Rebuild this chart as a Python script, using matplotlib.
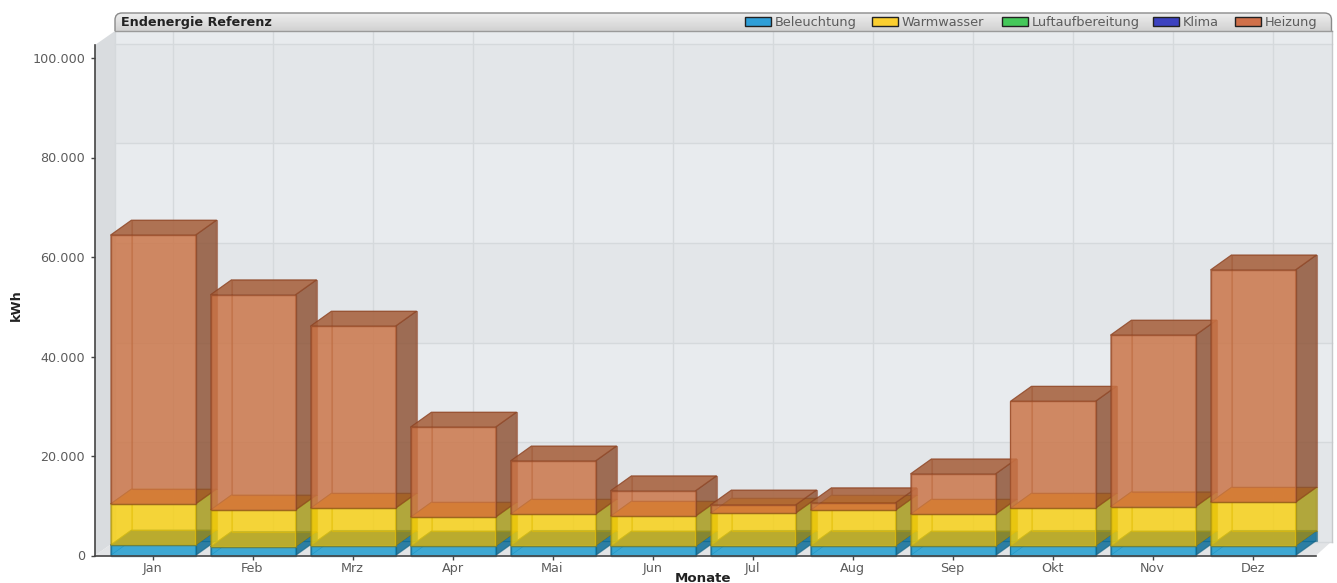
import numpy as np
import matplotlib
matplotlib.use("Agg")
import matplotlib.pyplot as plt
from matplotlib.patches import FancyBboxPatch, Polygon, Rectangle

months = ['Jan', 'Feb', 'Mrz', 'Apr', 'Mai', 'Jun', 'Jul', 'Aug', 'Sep', 'Okt', 'Nov', 'Dez']
beleuchtung = [2100, 1800, 2000, 1900, 2000, 1900, 2000, 2000, 1900, 2000, 1900, 2000]
warmwasser = [8250, 7350, 7500, 5800, 6300, 6000, 6500, 7100, 6400, 7500, 7900, 8700]
luftaufbereitung = [0, 0, 0, 0, 0, 0, 0, 0, 0, 0, 0, 0]
klima = [0, 0, 0, 0, 0, 0, 0, 0, 0, 0, 0, 0]
heizung = [54050, 43250, 36600, 18100, 10700, 5100, 1650, 1500, 8100, 21500, 34500, 46700]

series_names = ['Beleuchtung', 'Warmwasser', 'Luftaufbereitung', 'Klima', 'Heizung']
y_ticks = [0, 20000, 40000, 60000, 80000, 100000]
y_tick_labels = ['0', '20.000', '40.000', '60.000', '80.000', '100.000']

# front, side, top and back tint of each series
face_colors = {
    'Beleuchtung': ('#159acf', '#006593', '#0040b0', '#1c86b0'),
    'Warmwasser': ('#fad003', '#a59815', '#ffa800', '#f0cc30'),
    'Luftaufbereitung': ('#2fbf4f', '#1f8a3a', '#1f8a3a', '#2fbf4f'),
    'Klima': ('#3038b8', '#202880', '#202880', '#3038b8'),
    'Heizung': ('#ca7345', '#8c5133', '#a55f3b', '#d07a50'),
}
edge_colors = {
    'Beleuchtung': '#0f5f80',
    'Warmwasser': '#a08a10',
    'Luftaufbereitung': '#14602a',
    'Klima': '#141a60',
    'Heizung': '#8a4020',
}
legend_colors = ['#2f9fd8', '#fbcf30', '#45c85a', '#3c42c0', '#d0704a']
legend_x = [745, 872, 1002, 1153, 1235]

W, H = 1337, 583
y0_px, ytop_px = 555.5, 45.0
x0_px, x1_px = 95.0, 1316.0
kwh_per_px = 100000 / 497.5

plt.rcParams['font.family'] = 'DejaVu Sans'
fig = plt.figure(figsize=(W / 100, H / 100), dpi=100, facecolor='white')

ax = fig.add_axes([x0_px / W, 1 - y0_px / H, (x1_px - x0_px) / W, (y0_px - ytop_px) / H])
ax.set_xlim((x0_px - 153) / 100, (x1_px - 153) / 100)
ax.set_ylim(0, (y0_px - ytop_px) * kwh_per_px)
ax.patch.set_visible(False)

wall_dx = 0.20
wall_dy = 14 * kwh_per_px
bar_dx = 0.21
bar_dy = 15 * kwh_per_px
half = 0.425

xl, xr = ax.get_xlim()
axis_top = ax.get_ylim()[1]
wall_top = (y0_px - 31) * kwh_per_px
wall_right = (1331.5 - 153) / 100


def poly(pts, color, alpha=1.0, edge='none', lw=0.0, z=2):
    ax.add_patch(Polygon(pts, closed=True, facecolor=color, edgecolor='none',
                         alpha=alpha, zorder=z, clip_on=False))
    if edge != 'none':
        ax.add_patch(Polygon(pts, closed=True, fill=False, edgecolor=edge, linewidth=lw,
                             alpha=0.6, zorder=z, clip_on=False))


# left wall, floor and back wall
poly([(xl, 0), (xl + wall_dx, wall_dy), (xl + wall_dx, wall_top), (xl, axis_top)], '#d9dcdf', z=0)
poly([(xl, 0), (xl + wall_dx, wall_dy), (wall_right, wall_dy), (xr, 0)], '#e2e4e6', z=0)
wall_w = wall_right - xl - wall_dx
ax.add_patch(Rectangle((xl + wall_dx, wall_dy), wall_w, wall_top - wall_dy, facecolor='#e8ebee',
                       edgecolor='none', zorder=0, clip_on=False))
for k in range(0, 5, 2):
    ax.add_patch(Rectangle((xl + wall_dx, y_ticks[k] + wall_dy), wall_w, 20000, facecolor='#e3e6e9',
                           edgecolor='none', zorder=0, clip_on=False))

# grid on the back wall
for v in y_ticks:
    ax.plot([xl + wall_dx, wall_right], [v + wall_dy, v + wall_dy], color='#d5d9dc', lw=1.0, zorder=1, clip_on=False)
for i in range(len(months)):
    ax.plot([i + wall_dx] * 2, [wall_dy, wall_top], color='#d5d9dc', lw=1.0, zorder=1, clip_on=False)
ax.plot([xl + wall_dx] * 2, [wall_dy, wall_top], color='#d5d9dc', lw=1.0, zorder=1, clip_on=False)
ax.plot([wall_right] * 2, [wall_dy, wall_top], color='#c6c8ca', lw=1.0, zorder=1, clip_on=False)

# stacked boxes, left to right and bottom to top
stack = [beleuchtung, warmwasser, luftaufbereitung, klima, heizung]
for i in range(len(months)):
    bottom = 0
    for name, values in zip(series_names, stack):
        v = values[i]
        if v == 0:
            continue
        top = bottom + v
        a, b = i - half, i + half
        front, side, lid, back = face_colors[name]
        edge = edge_colors[name]
        poly([(a + bar_dx, bottom + bar_dy), (b + bar_dx, bottom + bar_dy),
              (b + bar_dx, top + bar_dy), (a + bar_dx, top + bar_dy)], back, 0.1, edge, 0.8, z=3)
        poly([(a, bottom), (a + bar_dx, bottom + bar_dy), (a + bar_dx, top + bar_dy), (a, top)],
             back, 0.15, edge, 0.5, z=3)
        poly([(b, bottom), (b + bar_dx, bottom + bar_dy), (b + bar_dx, top + bar_dy), (b, top)],
             side, 0.8, edge, 0.9, z=3)
        poly([(a, top), (b, top), (b + bar_dx, top + bar_dy), (a + bar_dx, top + bar_dy)],
             lid, 0.85 if name == 'Heizung' else 1.0, edge, 0.9, z=3)
        poly([(a, bottom), (b, bottom), (b, top), (a, top)], front,
             0.75 if name == 'Warmwasser' else 0.8, edge, 1.0, z=3)
        bottom = top

for side_name in ['top', 'right']:
    ax.spines[side_name].set_visible(False)
for side_name in ['left', 'bottom']:
    ax.spines[side_name].set_color('#444444')
    ax.spines[side_name].set_linewidth(1.2)
    ax.spines[side_name].set_zorder(5)

ax.set_yticks(y_ticks)
ax.set_yticklabels(y_tick_labels)
ax.set_xticks([i - 0.005 for i in range(len(months))])
ax.set_xticklabels(months)
ax.tick_params(axis='y', length=3.2, width=1, color='#444444', labelcolor='#5c5c5c', labelsize=9.2, pad=4)
ax.tick_params(axis='x', length=3, width=1, color='#444444', labelcolor='#5c5c5c', labelsize=9.2, pad=1.5)

# header strip with title and legend, in pixel coordinates
top = fig.add_axes([0, 0, 1, 1], zorder=10)
top.patch.set_visible(False)
top.axis('off')

gradient = np.linspace(0.93, 0.82, 32).reshape(-1, 1)
header = FancyBboxPatch((115, 13), 1216.5, 30, boxstyle='round,pad=0,rounding_size=7',
                        facecolor='none', edgecolor='none')
top.add_patch(header)
strip = top.imshow(gradient, extent=(115, 1331.5, 31, 13), cmap='gray', vmin=0, vmax=1, aspect='auto', zorder=1)
strip.set_clip_path(header)
top.set_xlim(0, W)
top.set_ylim(H, 0)
outline = FancyBboxPatch((115, 13), 1216.5, 30, boxstyle='round,pad=0,rounding_size=7',
                         facecolor='none', edgecolor='#8a8a8a', linewidth=1.0, zorder=2)
top.add_patch(outline)
outline.set_clip_path(Rectangle((100, 0), 1237, 31, transform=top.transData))
top.plot([115, 1331.5], [31, 31], color='#9a9a9a', lw=1.0, zorder=2)
top.text(121, 26, 'Endenergie Referenz', fontsize=9.2, fontweight='bold', color='#222222',
         va='baseline', ha='left', zorder=3)

for x, name, color in zip(legend_x, series_names, legend_colors):
    top.add_patch(Rectangle((x, 17), 26, 9, facecolor=color, edgecolor='#222222', linewidth=1.0, zorder=3))
    top.text(x + 30, 26, name, fontsize=9.3, color='#5c5c5c', va='baseline', ha='left', zorder=3)

top.text(703, 581.5, 'Monate', fontsize=9.6, fontweight='bold', color='#222222', va='baseline', ha='center')
top.text(16, 305, 'kWh', fontsize=9.2, fontweight='bold', color='#222222', va='center', ha='center', rotation=90)

fig.savefig('out.png', dpi=100)
